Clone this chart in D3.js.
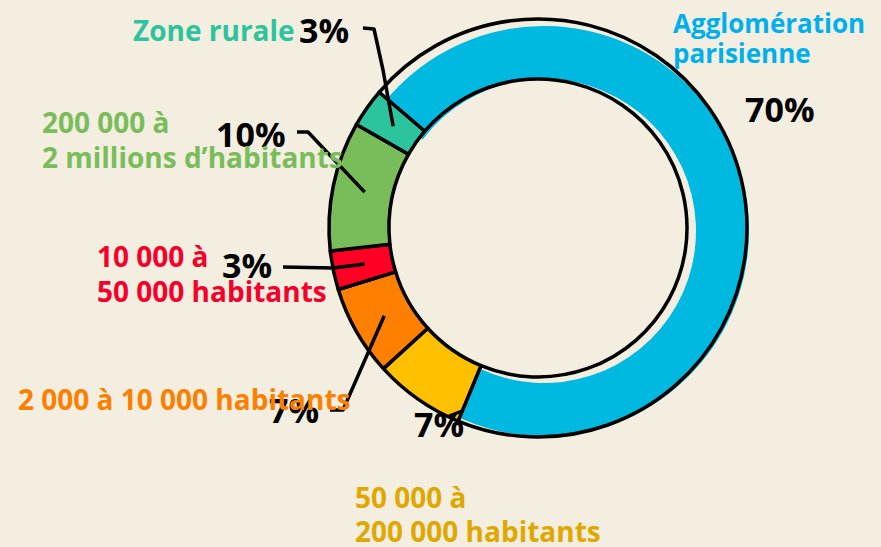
<!DOCTYPE html>
<html>
<head>
<meta charset="utf-8">
<script src="https://cdn.jsdelivr.net/npm/d3@7"></script>
<style>
  body { margin: 0; background: #f3eee0; }
  svg { display: block; }
  .cat { font-family: "Open Sans", sans-serif; font-weight: 700; }
  .pct { font-family: "Open Sans", sans-serif; font-weight: 700; fill: #000; }
</style>
</head>
<body>
<div id="container"></div>
<script>
/* DATA */
const categories = ["Agglomération parisienne", "50 000 à 200 000 habitants", "2 000 à 10 000 habitants",
  "10 000 à 50 000 habitants", "200 000 à 2 millions d’habitants", "Zone rurale"];
const values = [70, 7, 7, 3, 10, 3];
const labelLines = [
  ["Agglomération", "parisienne"],
  ["50 000 à", "200 000 habitants"],
  ["2 000 à 10 000 habitants"],
  ["10 000 à", "50 000 habitants"],
  ["200 000 à", "2 millions d’habitants"],
  ["Zone rurale"]
];
const sliceColors = ["#00b9e0", "#ffc000", "#ff7f00", "#ff0024", "#78bd5a", "#2bc49c"];
const labelColors = ["#00b0ec", "#dfa800", "#fb8000", "#f5002a", "#78bd5a", "#2bc49c"];

/* CONSTANTS */
const width = 881, height = 547;
const cx = 538, cy = 228, outerR = 209, innerR = 149;
const startDeg = -49.5;

// label layout: category text position, percent text position, leader elbow points
const layout = [
  { tx: 673, ty: 33, lh: 30, size: 26, px: 745, py: 122, leader: null },
  { tx: 355, ty: 508, lh: 34, size: 28, px: 414, py: 437, leader: "tick" },
  { tx: 18, ty: 410, lh: 34, size: 28, px: 269, py: 423, leader: [[330, 410], [343, 410]] },
  { tx: 97, ty: 267, lh: 35, size: 28, px: 222, py: 278, leader: [[283, 267], [333, 268]] },
  { tx: 42, ty: 133, lh: 35, size: 28, px: 216, py: 147, leader: [[297, 132], [308, 132]] },
  { tx: 133, ty: 41, lh: 34, size: 28, px: 299, py: 43, leader: [[363, 28], [374, 29], [383, 70]] }
];

const svg = d3.select("#container")
  .append("svg")
  .attr("width", width)
  .attr("height", height);

svg.append("rect")
  .attr("width", width)
  .attr("height", height)
  .attr("fill", "#f3eee0");

const start = startDeg * Math.PI / 180;
const pie = d3.pie()
  .sort(null)
  .value(d => d)
  .startAngle(start)
  .endAngle(start + 2 * Math.PI);
const arcs = pie(values);

const arc = d3.arc().innerRadius(innerR).outerRadius(outerR);
const labelArc = d3.arc().innerRadius(177).outerRadius(177);

// blue fill drawn a little off the outline, like the hand-made original
const blueFill = d3.arc().innerRadius(152).outerRadius(205);
svg.append("path")
  .attr("transform", `translate(${cx + 6},${cy + 3})`)
  .attr("d", blueFill({ startAngle: arcs[0].startAngle - 0.06, endAngle: arcs[0].endAngle + 0.05 }))
  .attr("fill", sliceColors[0]);

const g = svg.append("g")
  .attr("transform", `translate(${cx},${cy})`);

g.selectAll("path.slice")
  .data(arcs)
  .join("path")
  .attr("class", "slice")
  .attr("d", arc)
  .attr("fill", (d, i) => i === 0 ? "none" : sliceColors[i])
  .attr("stroke", "#000")
  .attr("stroke-width", 3.5)
  .attr("stroke-linejoin", "round");

// leader lines
const line = d3.line();
arcs.forEach((d, i) => {
  const L = layout[i].leader;
  if (!L) return;
  if (L === "tick") {
    svg.append("path")
      .attr("d", line([[449, 416], [462, 411]]))
      .attr("stroke", "#000").attr("stroke-width", 3).attr("fill", "none");
    return;
  }
  const c = labelArc.centroid(d);
  const pts = L.concat([[cx + c[0], cy + c[1]]]);
  svg.append("path")
    .attr("d", line(pts))
    .attr("fill", "none")
    .attr("stroke", "#000")
    .attr("stroke-width", 3.5)
    .attr("stroke-linejoin", "round");
});

// percent labels
svg.selectAll("text.pct")
  .data(arcs)
  .join("text")
  .attr("class", "pct")
  .attr("x", (d, i) => layout[i].px)
  .attr("y", (d, i) => layout[i].py)
  .attr("font-size", 34)
  .text(d => d.data + "%");

// category labels
arcs.forEach((d, i) => {
  const t = svg.append("text")
    .attr("class", "cat")
    .attr("fill", labelColors[i])
    .attr("font-size", layout[i].size);
  labelLines[i].forEach((s, k) => {
    t.append("tspan")
      .attr("x", layout[i].tx)
      .attr("y", layout[i].ty + k * layout[i].lh)
      .text(s);
  });
});
</script>
</body>
</html>
